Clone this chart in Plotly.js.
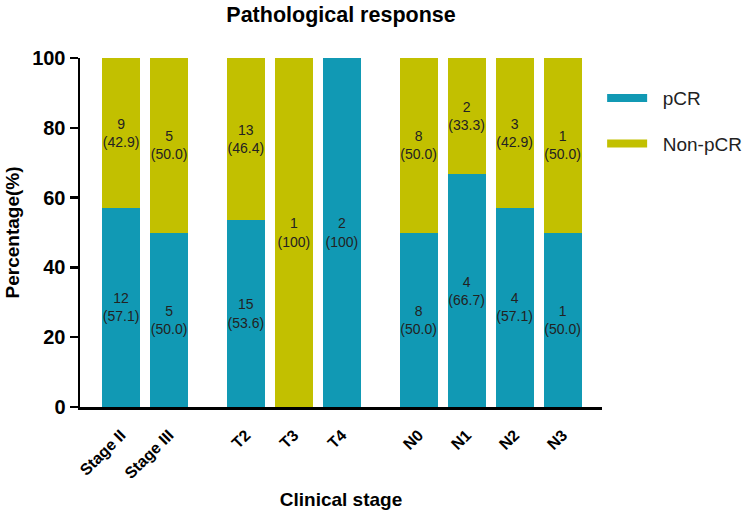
<!DOCTYPE html>
<html>
<head>
<meta charset="utf-8">
<script src="https://cdn.plot.ly/plotly-3.0.1.min.js"></script>
<style>
  html, body { margin: 0; padding: 0; background: #fff; }
  #chart { width: 748px; height: 510px; }
</style>
</head>
<body>
<div id="chart"></div>
<script>
// categories and which group they belong to (gap between groups)
const categories = ['Stage II', 'Stage III', 'T2', 'T3', 'T4', 'N0', 'N1', 'N2', 'N3'];
const groupIndex = [0, 0, 1, 1, 1, 2, 2, 2, 2];

// patient counts and percentages
const pcrCounts = [12, 5, 15, 0, 2, 8, 4, 4, 1];
const pcrPct = [57.1, 50.0, 53.6, 0, 100, 50.0, 66.7, 57.1, 50.0];
const nonPcrCounts = [9, 5, 13, 1, 0, 8, 2, 3, 1];
const nonPcrPct = [42.9, 50.0, 46.4, 100, 0, 50.0, 33.3, 42.9, 50.0];

const pcrColor = '#1199b4';
const nonPcrColor = '#c2c000';

// x position of each bar: one slot per bar plus extra space between groups
const groupGap = 0.6;
const xPos = categories.map((c, i) => i + groupGap * groupIndex[i]);

function label(n, p) {
    if (!n) return '';
    const pct = p === 100 ? '100' : p.toFixed(1);
    return n + '<br>(' + pct + ')';
}

const labelFont = { family: 'Liberation Sans, Arial, sans-serif', size: 14, color: '#222' };

const barCommon = {
    type: 'bar',
    x: xPos,
    textposition: 'inside',
    insidetextanchor: 'middle',
    constraintext: 'none',
    textangle: 0,
    insidetextfont: labelFont,
    hoverinfo: 'skip',
    showlegend: false
};

const traces = [
    Object.assign({}, barCommon, {
        name: 'pCR',
        y: pcrPct,
        text: pcrCounts.map((n, i) => label(n, pcrPct[i])),
        marker: { color: pcrColor, line: { width: 0 } }
    }),
    Object.assign({}, barCommon, {
        name: 'Non-pCR',
        y: nonPcrPct,
        text: nonPcrCounts.map((n, i) => label(n, nonPcrPct[i])),
        marker: { color: nonPcrColor, line: { width: 0 } }
    }),
    // legend entries drawn as thick short lines, like the original
    { type: 'scatter', mode: 'lines', x: [null], y: [null], name: '\u00a0\u00a0pCR',
      line: { color: pcrColor, width: 8 }, legendgroup: 'a', hoverinfo: 'skip' },
    { type: 'scatter', mode: 'lines', x: [null], y: [null], name: '\u00a0\u00a0Non-pCR',
      line: { color: nonPcrColor, width: 8 }, legendgroup: 'b', hoverinfo: 'skip' }
];

const boldFont = 'Liberation Sans, Arial, sans-serif';

const layout = {
    width: 748,
    height: 510,
    margin: { l: 80, r: 146, t: 58, b: 103 },
    paper_bgcolor: '#fff',
    plot_bgcolor: '#fff',
    barmode: 'stack',
    bargap: 0.21,
    font: { family: boldFont, color: '#000' },
    title: {
        text: '<b>Pathological response</b>',
        font: { size: 21.5, family: boldFont, color: '#000' },
        x: 0.5, xref: 'paper', xanchor: 'center',
        y: 0.972, yref: 'container', yanchor: 'middle'
    },
    xaxis: {
        range: [-0.855, 10.02],
        tickvals: xPos,
        ticktext: categories.map(c => '<b>' + c + '</b>'),
        tickangle: -45,
        ticks: '',
        ticklabelstandoff: 10,
        tickfont: { size: 16, family: boldFont, color: '#000' },
        showgrid: false,
        zeroline: false,
        showline: true,
        linecolor: '#000',
        linewidth: 2.5,
        title: {
            text: '<b>Clinical stage</b>',
            font: { size: 19, family: boldFont, color: '#000' },
            standoff: 22
        }
    },
    yaxis: {
        range: [0, 100],
        tickvals: [0, 20, 40, 60, 80, 100],
        ticktext: ['<b>0</b>', '<b>20</b>', '<b>40</b>', '<b>60</b>', '<b>80</b>', '<b>100</b>'],
        ticks: 'outside',
        ticklen: 8,
        tickwidth: 2.5,
        tickcolor: '#000',
        tickfont: { size: 20, family: boldFont, color: '#000' },
        showgrid: false,
        zeroline: false,
        showline: true,
        linecolor: '#000',
        linewidth: 2.5,
        title: {
            text: '<b>Percentage(%)</b>',
            font: { size: 19, family: boldFont, color: '#000' },
            standoff: 8
        }
    },
    legend: {
        x: 0.805, xref: 'container', xanchor: 'left',
        y: 0.845, yref: 'container', yanchor: 'top',
        traceorder: 'grouped',
        tracegroupgap: 18,
        itemwidth: 40,
        font: { size: 19, family: boldFont, color: '#222' },
        bgcolor: 'rgba(0,0,0,0)'
    }
};

Plotly.newPlot('chart', traces, layout, { displayModeBar: false, staticPlot: true });
</script>
</body>
</html>
